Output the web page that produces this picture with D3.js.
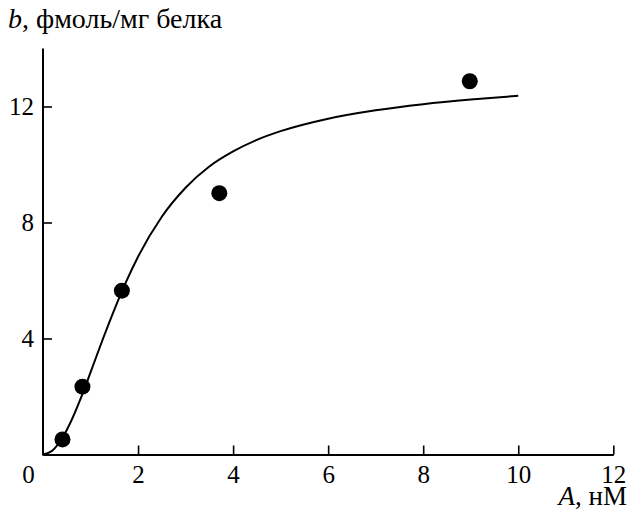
<!DOCTYPE html>
<html><head><meta charset="utf-8">
<script src="https://cdn.jsdelivr.net/npm/d3@7"></script>
<style>body{margin:0;background:#fff}</style>
</head><body>
<svg id="c" width="629" height="511"></svg>
<script>
// Data points (A, нМ ; b, фмоль/мг белка)
const pointA = [0.41, 0.83, 1.66, 3.71, 8.98];
const pointB = [0.52, 2.34, 5.65, 9.01, 12.87];
// Fitted curve
const curveA = [0, 0.2, 0.4, 0.6, 0.8, 1.0, 1.25, 1.5, 1.75, 2.0, 2.5, 3.0, 3.5, 4.0, 4.5, 5.0, 6.0, 7.0, 8.0, 9.0, 10.0];
const curveB = [0, 0.14, 0.55, 1.18, 1.96, 2.83, 3.94, 4.99, 5.96, 6.82, 8.20, 9.20, 9.93, 10.45, 10.85, 11.15, 11.58, 11.87, 12.08, 12.24, 12.37];
const xTicks = [0, 2, 4, 6, 8, 10, 12];
const yTicks = [4, 8, 12];
const yTitle = ["b", ", фмоль/мг белка"];
const xTitle = ["A", ", нМ"];

const svg = d3.select("#c");
const font = '"Liberation Serif"';
const fsTick = "25px";
const x = d3.scaleLinear().domain([0, 12]).range([43, 613.3]);
const y = d3.scaleLinear().domain([0, 14]).range([454.5, 48.5]);

// x axis
const gx = svg.append("g").attr("transform", `translate(0,${y(0)})`)
  .call(d3.axisBottom(x).tickValues(xTicks).tickSizeInner(-9).tickSizeOuter(0).tickFormat(d3.format("d")));
gx.attr("font-family", null).attr("font-size", null);
gx.select(".domain").attr("stroke", "#000").attr("stroke-width", 2);
gx.selectAll(".tick line").attr("stroke", "#000").attr("stroke-width", 1.6);
gx.selectAll(".tick").filter(d => d === 0).select("line").remove();
gx.selectAll(".tick text").attr("y", 28).attr("dy", 0).style("font-family", font).style("font-size", fsTick).attr("fill", "#000");
gx.selectAll(".tick").filter(d => d === 0).select("text").attr("x", -15);

// y axis
const gy = svg.append("g").attr("transform", `translate(${x(0)},0)`)
  .call(d3.axisLeft(y).tickValues(yTicks).tickSizeInner(-9).tickSizeOuter(0).tickFormat(d3.format("d")));
gy.attr("font-family", null).attr("font-size", null);
gy.select(".domain").attr("stroke", "#000").attr("stroke-width", 2)
  .attr("d", `M0,${y(14)}V${y(0) + 1}`);
gy.selectAll(".tick line").attr("stroke", "#000").attr("stroke-width", 1.6);
gy.selectAll(".tick text").attr("x", -9).attr("dy", "0.33em").style("font-family", font).style("font-size", fsTick).attr("fill", "#000");

// curve
const curveData = curveA.map((a, i) => [a, curveB[i]]);
svg.append("path").datum(curveData)
  .attr("fill", "none").attr("stroke", "#000").attr("stroke-width", 2)
  .attr("d", d3.line().x(d => x(d[0])).y(d => y(d[1])).curve(d3.curveMonotoneX));

// points
svg.selectAll("circle.p").data(pointA.map((a, i) => [a, pointB[i]])).enter()
  .append("circle").attr("class", "p")
  .attr("cx", d => x(d[0])).attr("cy", d => y(d[1])).attr("r", 8).attr("fill", "#000");

// titles
const t1 = svg.append("text").attr("x", 8).attr("y", 28).style("font-family", font).style("font-size", "28px").attr("fill", "#000");
t1.append("tspan").style("font-style", "italic").text(yTitle[0]);
t1.append("tspan").text(yTitle[1]);

const t2 = svg.append("text").attr("x", 627).attr("y", 505).attr("text-anchor", "end").style("font-family", font).style("font-size", "27px").attr("fill", "#000");
t2.append("tspan").style("font-style", "italic").text(xTitle[0]);
t2.append("tspan").text(xTitle[1]);
</script>
</body></html>
